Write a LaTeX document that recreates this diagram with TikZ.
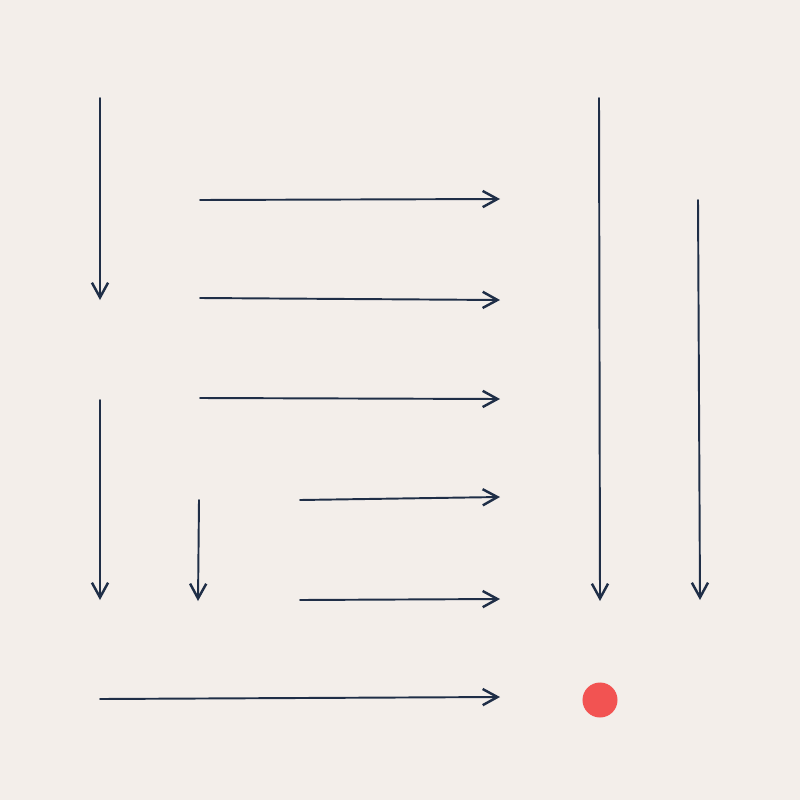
\documentclass[tikz,border=0pt]{standalone}
\usetikzlibrary{arrows.meta}
\definecolor{paper}{HTML}{F3EEEA}
\definecolor{ink}{HTML}{1F2E47}
\definecolor{dotred}{HTML}{F25352}
\begin{document}
\begin{tikzpicture}[x=0.01cm,y=-0.01cm,
  arr/.style={draw=ink,line width=0.55pt,line cap=round,-{Straight Barb[length=4.2pt,width=4.6pt,line width=0.7pt]}},
  reddot/.style={circle,fill=dotred,minimum size=0.35cm,inner sep=0pt}]
\fill[paper] (0,0) rectangle (800,800);
\useasboundingbox (0,0) rectangle (800,800);
% endpoints
\coordinate (a1) at (100,98);  \coordinate (b1) at (100,300);
\coordinate (a2) at (200,200); \coordinate (b2) at (500,199);
\coordinate (a3) at (200,298); \coordinate (b3) at (500,300);
\coordinate (a4) at (200,398); \coordinate (b4) at (500,399);
\coordinate (a5) at (100,400); \coordinate (b5) at (100,600);
\coordinate (a6) at (199,500); \coordinate (b6) at (198,601);
\coordinate (a7) at (300,500); \coordinate (b7) at (500,497);
\coordinate (a8) at (300,600); \coordinate (b8) at (500,599);
\coordinate (a9) at (100,699); \coordinate (b9) at (500,697);
\coordinate (a10) at (599,98); \coordinate (b10) at (600,601);
\coordinate (a11) at (698,200); \coordinate (b11) at (700,600);
\node[reddot] (dot) at (600,700) {};
\foreach \i in {1,...,11} { \draw[arr] (a\i) -- (b\i); }
\end{tikzpicture}
\end{document}
